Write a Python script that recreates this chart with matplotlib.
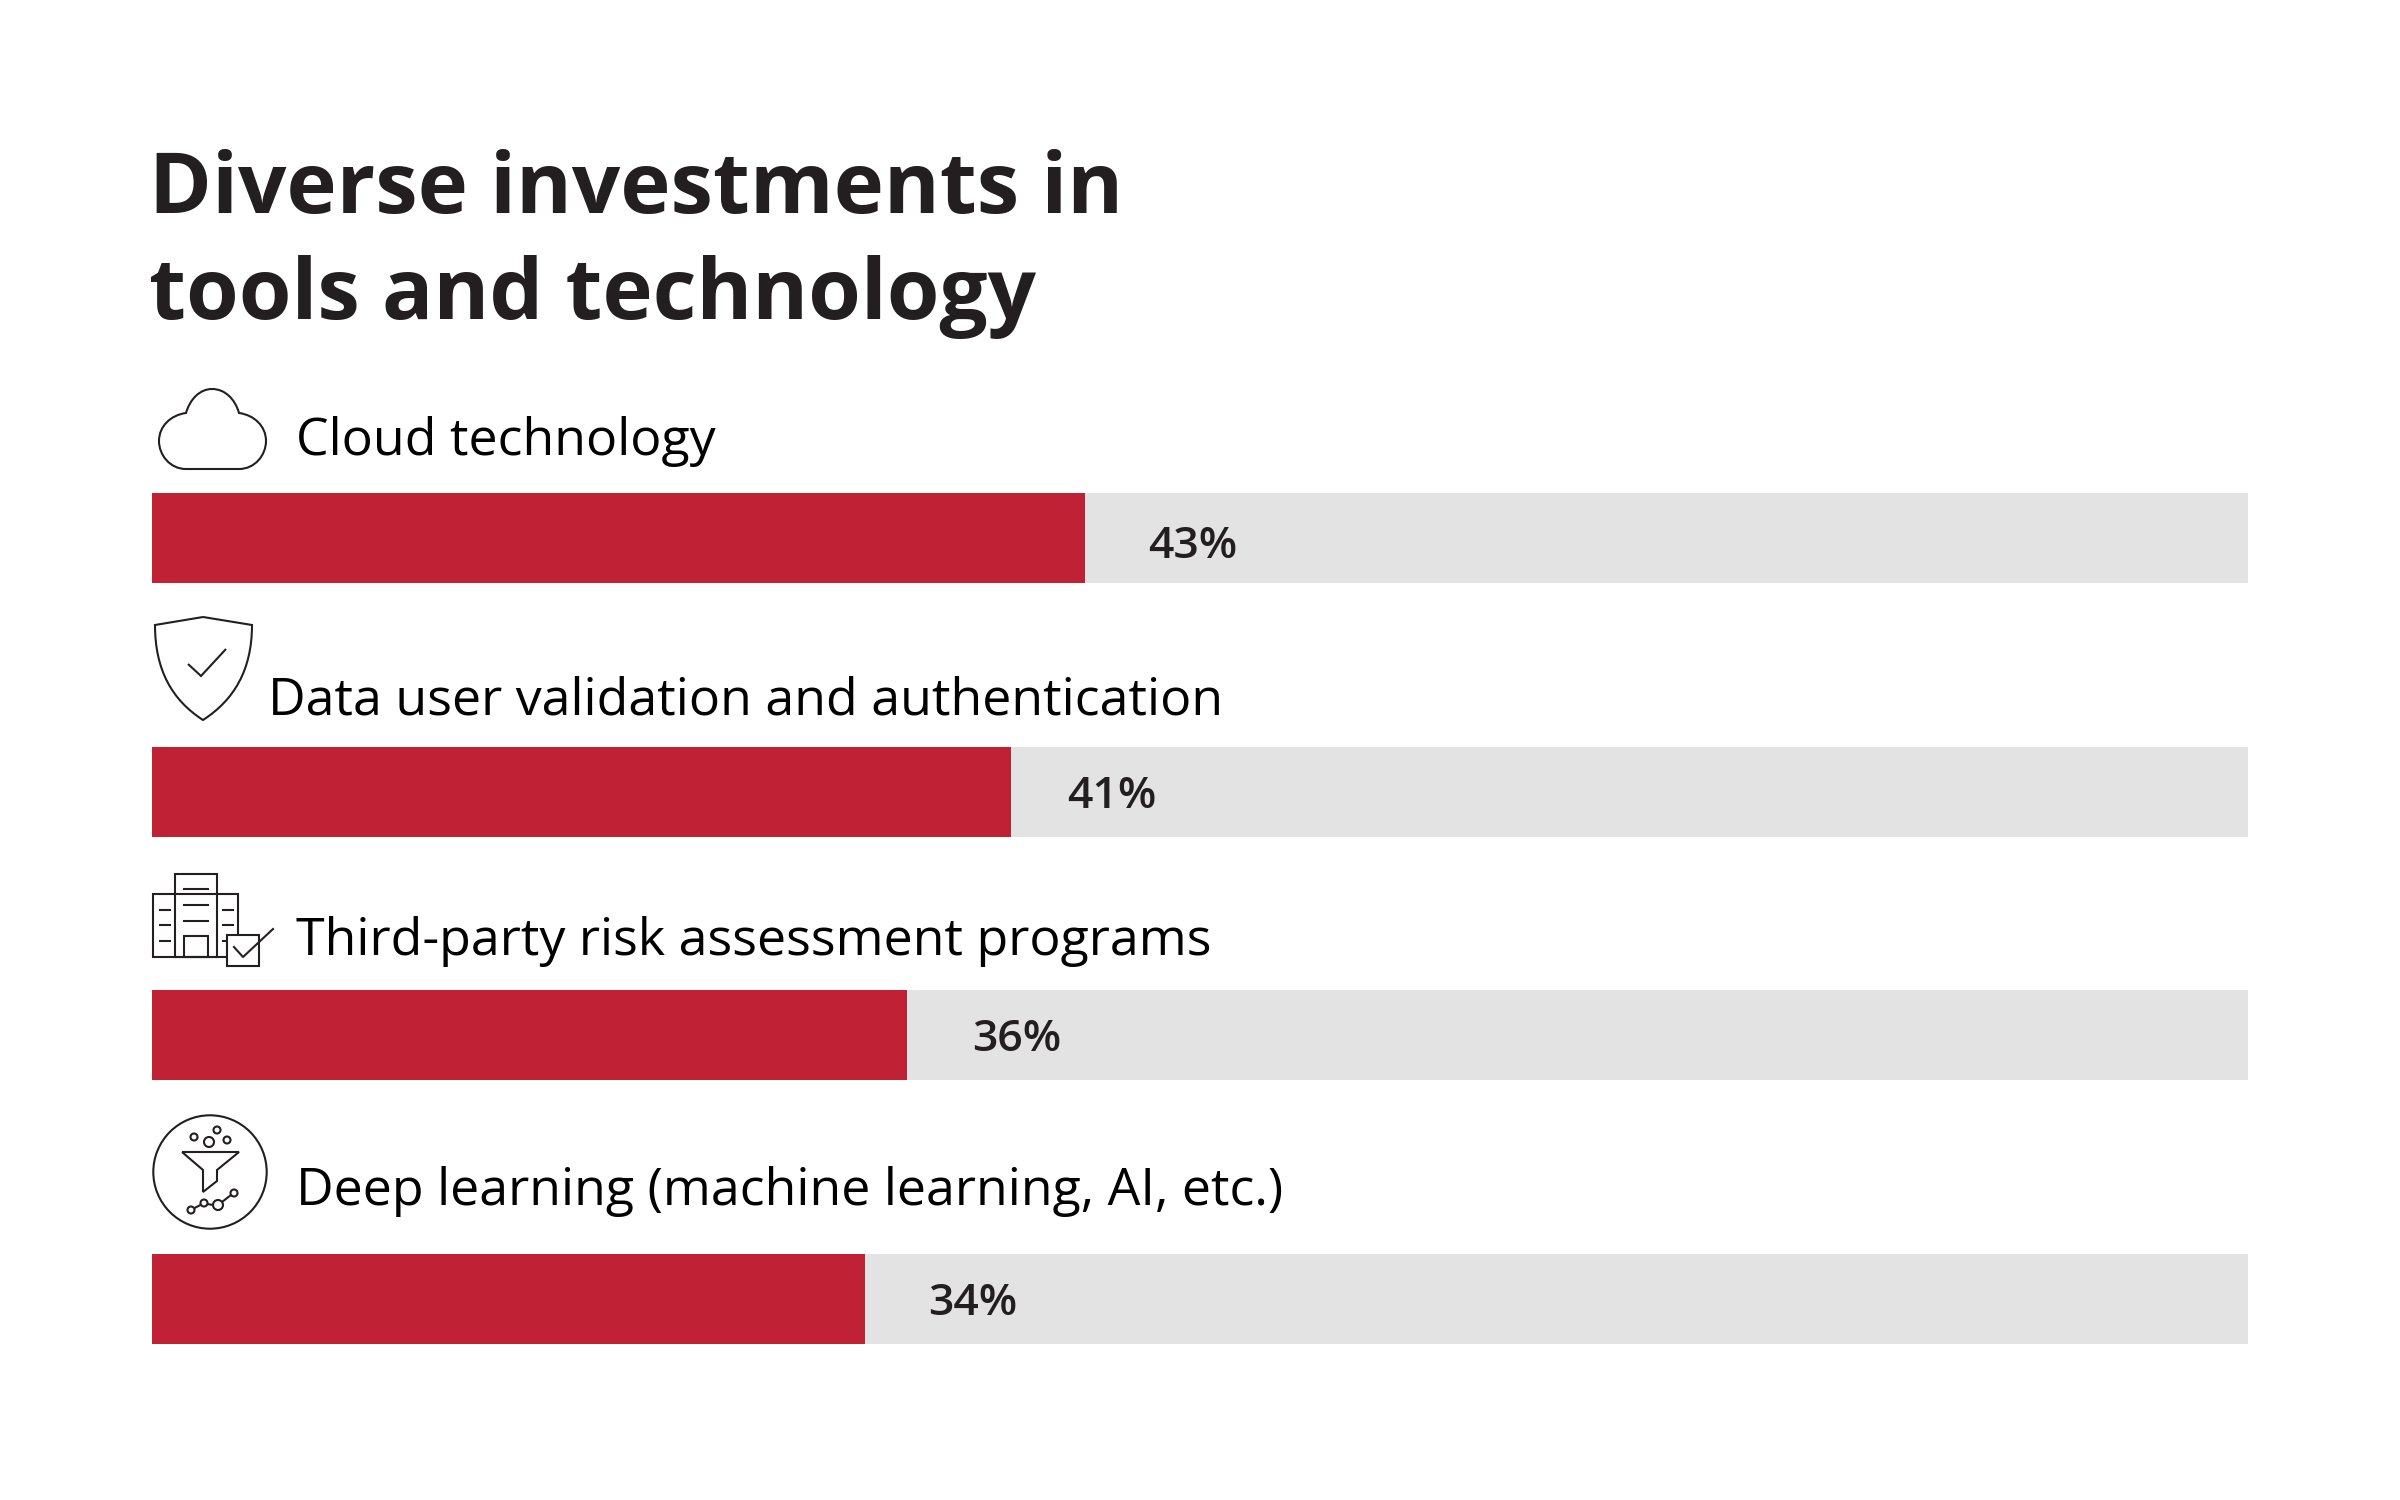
import matplotlib
matplotlib.use("Agg")
import matplotlib.pyplot as plt
from matplotlib.patches import Circle, Rectangle, PathPatch
from matplotlib.path import Path

categories = ["Cloud technology", "Data user validation and authentication",
              "Third-party risk assessment programs",
              "Deep learning (machine learning, AI, etc.)"]
percent_labels = ["43%", "41%", "36%", "34%"]
# red length as drawn, the first bar runs a bit longer than its label
bar_values = [44.5, 41.0, 36.0, 34.0]
bar_total = 100

RED = "#C12134"
GREY = "#E3E3E3"
DARK = "#231F20"
LW = 1.5

plt.rcParams['font.family'] = ['Open Sans', 'DejaVu Sans']

fig = plt.figure(figsize=(24, 15), dpi=100)

# bar axes
bar_left, bar_right = 152, 2248
ax = fig.add_axes([bar_left / 2400, 0, (bar_right - bar_left) / 2400, 1])
ax.set_xlim(0, bar_total)
ax.set_ylim(1500, 0)
ax.axis("off")

bar_y = [538, 792, 1035, 1299]
bar_h = 90
ax.barh(bar_y, [bar_total] * 4, height=bar_h, color=GREY, linewidth=0)
ax.barh(bar_y, bar_values, height=bar_h, color=RED, linewidth=0)

# full page axes in pixels, for text and icons
page = fig.add_axes([0, 0, 1, 1])
page.set_xlim(0, 2400)
page.set_ylim(1500, 0)
page.axis("off")
page.patch.set_alpha(0)

label_x = [1192.5, 1112, 1017, 972.5]
label_base = [558, 808, 1051, 1315]
for lx, y, s in zip(label_x, label_base, percent_labels):
    page.text(lx, y, s, fontsize=32, fontweight="semibold", color=DARK,
              ha="center", va="baseline")

page.text(149, 213, "Diverse investments in", fontsize=61.3, fontweight="bold",
          color=DARK, ha="left", va="baseline")
page.text(149, 319, "tools and technology", fontsize=61.3, fontweight="bold",
          color=DARK, ha="left", va="baseline")

text_x = [296, 268, 296, 296]
text_base = [455, 714.5, 955, 1205]
for x, y, s in zip(text_x, text_base, categories):
    page.text(x, y, s, fontsize=37.4, color="black", ha="left", va="baseline")


def line(xs, ys, lw=LW):
    page.plot(xs, ys, color=DARK, lw=lw, solid_capstyle="butt",
              solid_joinstyle="miter")


def circle(x, y, r, lw=LW):
    page.add_patch(Circle((x, y), r, fill=False, ec=DARK, lw=lw))


def curve(verts, codes, lw=LW):
    page.add_patch(PathPatch(Path(verts, codes), fill=False, ec=DARK, lw=lw,
                             joinstyle="miter"))


def box(x0, y0, x1, y1, fc="none", z=2):
    page.add_patch(Rectangle((x0, y0), x1 - x0, y1 - y0, fc=fc, ec=DARK, lw=LW,
                             zorder=z))


M, L, C = Path.MOVETO, Path.LINETO, Path.CURVE4

# cloud
curve([(186, 469), (170, 469), (159, 455), (159, 441), (159, 426), (171, 415),
       (186, 413), (190, 399), (200, 389), (212, 389), (225, 389), (235, 399),
       (239, 413), (254, 415), (266, 426), (266, 441), (266, 455), (255, 469),
       (239, 469), (186, 469)],
      [M, C, C, C, C, C, C, C, C, C, C, C, C, C, C, C, C, C, C, L])

# shield
curve([(203, 617), (155, 625), (155, 670), (172, 700), (203, 720),
       (234, 700), (252, 670), (252, 625), (203, 617)],
      [M, L, C, C, C, C, C, C, L])
line([188, 201, 226], [664, 676, 649])

# buildings
box(153, 894, 238, 957)
box(175, 874, 217, 957)
box(184, 936, 208, 957)
for yy in [889, 905, 921]:
    line([183, 209], [yy, yy])
for yy in [910, 925, 941]:
    line([159, 171], [yy, yy])
    line([222, 234], [yy, yy])
box(227, 935, 259, 966, fc="white", z=3)
page.plot([234, 243, 273], [947, 957, 929], color=DARK, lw=LW, zorder=4)

# funnel in circle
circle(210, 1172, 56.7)
for cx, cy, r in [(194, 1137, 3.5), (209, 1142, 5), (217, 1130, 3.5), (227, 1140, 3.5)]:
    circle(cx, cy, r)
line([182, 239, 217, 217, 203, 203, 182], [1152, 1152, 1170, 1181, 1192, 1170, 1152])
for cx, cy, r in [(191, 1210, 3.5), (204, 1203, 3.5), (218, 1205, 5), (234, 1193, 3.5)]:
    circle(cx, cy, r)
line([194.5, 200.5], [1208, 1205])
line([207.5, 213], [1204, 1205])
line([222, 231], [1202, 1195])

fig.savefig("out.png", dpi=100, facecolor="white")
